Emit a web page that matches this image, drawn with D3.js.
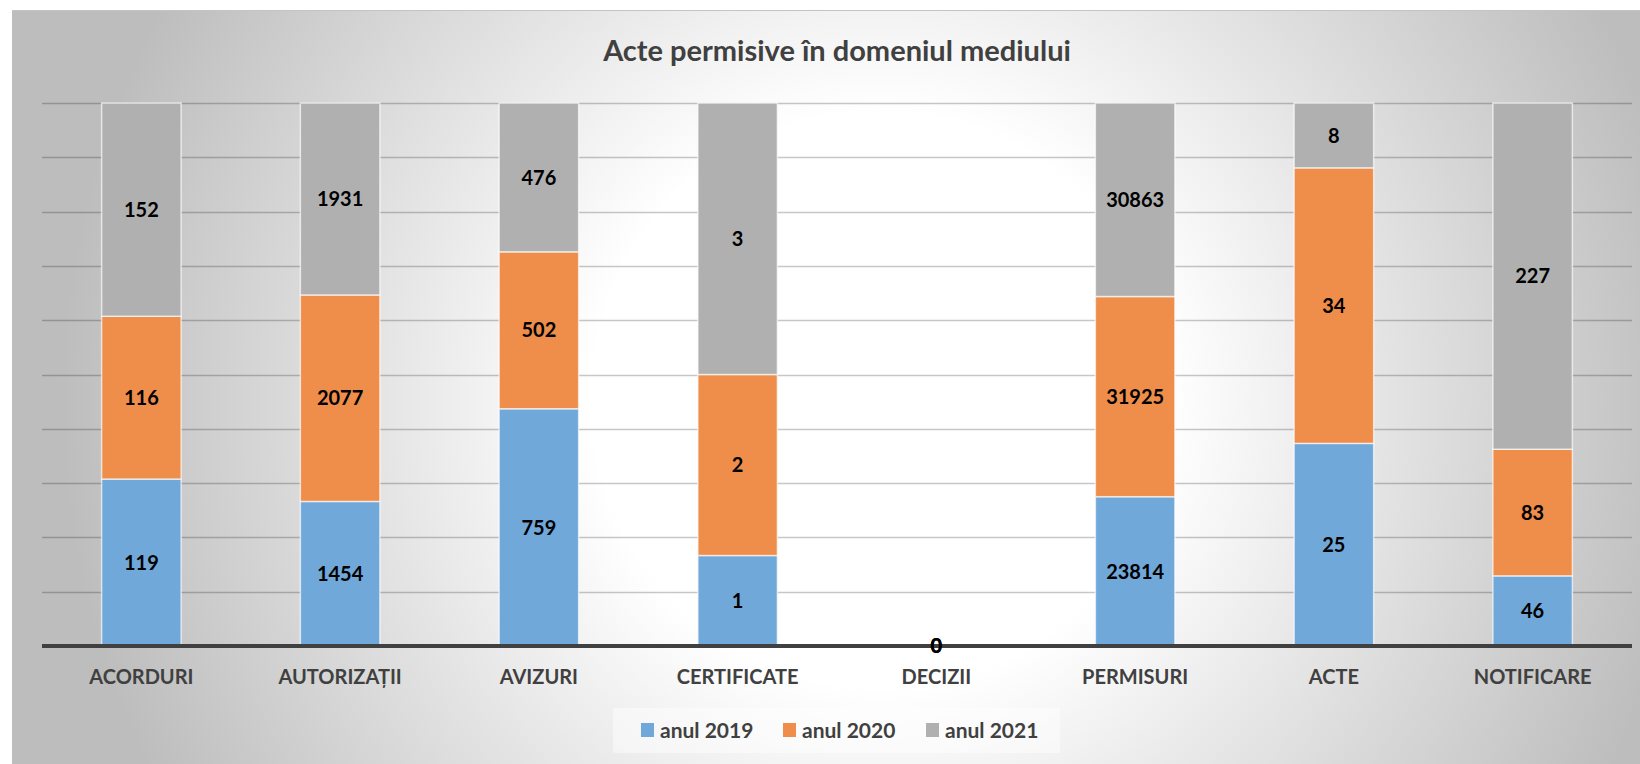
<html>
<head>
  <meta charset="utf-8">
  <title>Acte permisive</title>
  <script src="https://d3js.org/d3.v7.min.js"></script>
  <style>
    body { margin: 0; background: #fff; }
    text { font-family: Lato, "Open Sans", sans-serif; }
  </style>
</head>
<body>
<script>
var width = 1640,
    height = 764;

// values
var categories = ["ACORDURI", "AUTORIZAȚII", "AVIZURI", "CERTIFICATE", "DECIZII", "PERMISURI", "ACTE", "NOTIFICARE"];
var seriesNames = ["anul 2019", "anul 2020", "anul 2021"];
var v2019 = [119, 1454, 759, 1, 0, 23814, 25, 46];
var v2020 = [116, 2077, 502, 2, 0, 31925, 34, 83];
var v2021 = [152, 1931, 476, 3, 0, 30863, 8, 227];
var colors = ["#70a8da", "#ef8d4b", "#b0b0b0"];

var rows = categories.map(function(c, i) {
  return { cat: c, "anul 2019": v2019[i], "anul 2020": v2020[i], "anul 2021": v2021[i] };
});

var svg = d3.select("body").append("svg")
  .attr("width", width)
  .attr("height", height);

var defs = svg.append("defs");
var grad = defs.append("radialGradient")
  .attr("id", "bg")
  .attr("gradientUnits", "userSpaceOnUse")
  .attr("cx", 880).attr("cy", 400).attr("r", 820);
grad.append("stop").attr("offset", "0").attr("stop-color", "#ffffff");
grad.append("stop").attr("offset", "0.35").attr("stop-color", "#ffffff");
grad.append("stop").attr("offset", "1").attr("stop-color", "#bdbdbd");

svg.append("rect")
  .attr("x", 12).attr("y", 10)
  .attr("width", width - 12).attr("height", height - 10)
  .attr("fill", "url(#bg)");
svg.append("line")
  .attr("x1", 12).attr("x2", width).attr("y1", 10.5).attr("y2", 10.5)
  .attr("stroke", "#c4c4c4").attr("stroke-width", 1);

var margin = { left: 42, right: 8, top: 103, bottom: 118 };

var x = d3.scaleBand()
  .domain(categories)
  .range([margin.left, width - margin.right])
  .paddingInner(0.6)
  .paddingOuter(0.3);

var y = d3.scaleLinear()
  .domain([0, 1])
  .range([height - margin.bottom, margin.top]);

// gridlines
svg.append("g")
  .selectAll("line")
  .data(d3.range(0.1, 1.01, 0.1))
  .enter()
  .append("line")
  .attr("x1", margin.left)
  .attr("x2", width - margin.right)
  .attr("y1", function(d) { return Math.round(y(d)) + 0.5; })
  .attr("y2", function(d) { return Math.round(y(d)) + 0.5; })
  .attr("stroke", "rgba(0,0,0,0.22)")
  .attr("stroke-width", 1.3);

var stack = d3.stack()
  .keys(seriesNames)
  .offset(d3.stackOffsetExpand);
var stacked = stack(rows);

var layers = svg.append("g")
  .selectAll("g")
  .data(stacked)
  .enter()
  .append("g")
  .attr("fill", function(d, i) { return colors[i]; });

layers.selectAll("rect")
  .data(function(d) { return d; })
  .enter()
  .append("rect")
  .attr("x", function(d) { return x(d.data.cat); })
  .attr("width", x.bandwidth())
  .attr("y", function(d) { return y(d[1]); })
  .attr("height", function(d) { return y(d[0]) - y(d[1]); })
  .attr("stroke", "rgba(255,255,255,0.65)")
  .attr("stroke-width", 1.5);

// axis line
svg.append("line")
  .attr("x1", margin.left)
  .attr("x2", width - margin.right)
  .attr("y1", y(0))
  .attr("y2", y(0))
  .attr("stroke", "#404040")
  .attr("stroke-width", 4);

// data labels
var labels = svg.append("g");
stacked.forEach(function(layer, li) {
  labels.selectAll(null)
    .data(layer)
    .enter()
    .append("text")
    .attr("x", function(d) { return x(d.data.cat) + x.bandwidth() / 2; })
    .attr("y", function(d) { return (y(d[0]) + y(d[1])) / 2; })
    .attr("dy", "0.36em")
    .attr("text-anchor", "middle")
    .attr("font-size", 20)
    .attr("font-weight", "bold")
    .attr("fill", "#000")
    .text(function(d) { return d.data[layer.key]; });
});

// category labels
svg.append("g")
  .selectAll("text")
  .data(categories)
  .enter()
  .append("text")
  .attr("x", function(d) { return x(d) + x.bandwidth() / 2; })
  .attr("y", 684)
  .attr("text-anchor", "middle")
  .attr("font-size", 20)
  .attr("font-weight", "bold")
  .attr("fill", "#404040")
  .text(function(d) { return d; });

// title
svg.append("text")
  .attr("x", (margin.left + width - margin.right) / 2)
  .attr("y", 61)
  .attr("text-anchor", "middle")
  .attr("font-size", 29)
  .attr("font-weight", "bold")
  .attr("fill", "#404040")
  .text("Acte permisive în domeniul mediului");

// legend
var legend = svg.append("g");
legend.append("rect")
  .attr("x", 613).attr("y", 708)
  .attr("width", 447).attr("height", 45)
  .attr("fill", "rgba(255,255,255,0.45)");

var legendX = [641, 783, 926];
var items = legend.selectAll("g.item")
  .data(seriesNames)
  .enter()
  .append("g")
  .attr("class", "item")
  .attr("transform", function(d, i) { return "translate(" + legendX[i] + ",723)"; });
items.append("rect")
  .attr("width", 13).attr("height", 14)
  .attr("fill", function(d, i) { return colors[i]; });
items.append("text")
  .attr("x", 19)
  .attr("y", 14.5)
  .attr("font-size", 21)
  .attr("font-weight", "bold")
  .attr("fill", "#404040")
  .text(function(d) { return d; });
</script>
</body>
</html>
